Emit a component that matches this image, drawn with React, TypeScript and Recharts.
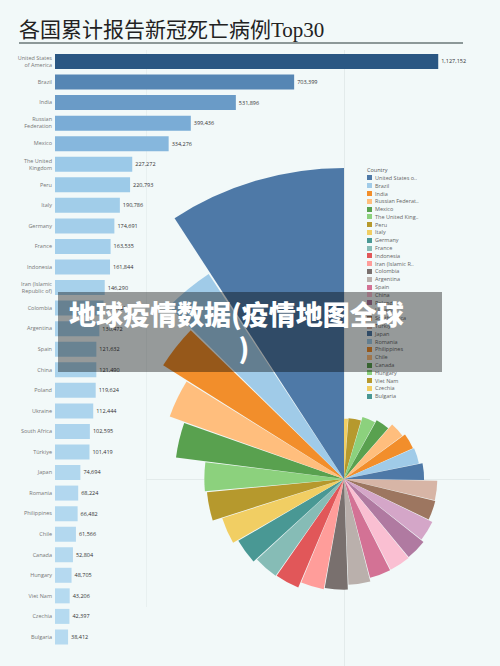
import React from 'react';
import {
  BarChart,
  Bar,
  XAxis,
  YAxis,
  LabelList,
  Cell,
  RadialBarChart,
  RadialBar,
  PolarAngleAxis,
  PolarRadiusAxis,
  Sector,
} from 'recharts';

const countries = [
  'United States of America', 'Brazil', 'India', 'Russian Federation', 'Mexico',
  'The United Kingdom', 'Peru', 'Italy', 'Germany', 'France', 'Indonesia',
  'Iran (Islamic Republic of)', 'Colombia', 'Argentina', 'Spain', 'China', 'Poland',
  'Ukraine', 'South Africa', 'Türkiye', 'Japan', 'Romania', 'Philippines', 'Chile',
  'Canada', 'Hungary', 'Viet Nam', 'Czechia', 'Bulgaria',
];

const deaths = [
  1127152, 703399, 531896, 399436, 334276, 227272, 220793, 190786, 174691, 163535,
  161844, 146290, 142727, 130472, 121632, 121490, 119624, 112444, 102595, 101419,
  74694, 68224, 66482, 61566, 52804, 48705, 43206, 42397, 38412,
];

// axis labels that wrap onto two lines
const tickLines: Record<string, string[]> = {
  'United States of America': ['United States', 'of America'],
  'Russian Federation': ['Russian', 'Federation'],
  'The United Kingdom': ['The United', 'Kingdom'],
  'Iran (Islamic Republic of)': ['Iran (Islamic', 'Republic of)'],
};

const tableau20 = [
  '#4e79a7', '#a0cbe8', '#f28e2b', '#ffbe7d', '#59a14f', '#8cd17d', '#b6992d', '#f1ce63',
  '#499894', '#86bcb6', '#e15759', '#ff9d9a', '#79706e', '#bab0ac', '#d37295', '#fabfd2',
  '#b07aa1', '#d4a6c8', '#9d7660', '#d7b5a6',
];

const maxDeaths = Math.max(...deaths);
const minDeaths = Math.min(...deaths);

// sequential blue ramp for the bars
const blueStops: [number, number[]][] = [
  [0, [0xb6, 0xda, 0xf0]],
  [0.17, [0x9c, 0xca, 0xe8]],
  [0.33, [0x7a, 0xac, 0xd6]],
  [0.61, [0x56, 0x86, 0xb4]],
  [1, [0x2a, 0x57, 0x83]],
];

function barColor(v: number) {
  const t = (v - minDeaths) / (maxDeaths - minDeaths);
  for (let i = 1; i < blueStops.length; i++) {
    const [t1, c1] = blueStops[i];
    const [t0, c0] = blueStops[i - 1];
    if (t <= t1) {
      const f = (t - t0) / (t1 - t0);
      const c = c0.map((x, k) => Math.round(x + (c1[k] - x) * f));
      return `rgb(${c[0]},${c[1]},${c[2]})`;
    }
  }
  return 'rgb(42,87,131)';
}

const barData = countries.map((country, i) => ({ country, deaths: deaths[i] }));
const roseData = countries
  .map((country, i) => ({ country, deaths: deaths[i], color: tableau20[i % 20] }))
  .reverse();

const smallFont = '"Open Sans", "Noto Sans", sans-serif';

function CountryTick(props: any) {
  const { x, y, payload } = props;
  const lines = tickLines[payload.value] || [payload.value];
  const start = -((lines.length - 1) * 7) / 2;
  return (
    <text x={x} y={y} textAnchor="end" fontSize={5.5} fill="#777" fontFamily={smallFont}>
      {lines.map((l, i) => (
        <tspan key={l} x={x} dy={i === 0 ? start + 2 : 7}>
          {l}
        </tspan>
      ))}
    </text>
  );
}

function RoseSlice(props: any) {
  const { cx, cy, innerRadius, outerRadius, startAngle, endAngle } = props;
  const row = props.payload || props;
  let start = startAngle;
  // the largest slice is drawn from the top of the circle
  if (row.deaths === maxDeaths) {
    start = endAngle - ((((endAngle - 90) % 360) + 360) % 360);
  }
  return (
    <Sector
      cx={cx}
      cy={cy}
      innerRadius={innerRadius}
      outerRadius={outerRadius}
      startAngle={start}
      endAngle={endAngle}
      fill={row.color}
      stroke="none"
    />
  );
}

function shortName(name: string) {
  return name.length > 15 ? name.slice(0, 15) + '..' : name;
}

export default function App() {
  return (
    <div
      style={{
        position: 'absolute',
        left: 0,
        top: 0,
        width: 500,
        height: 666,
        background: '#f2f9f9',
        overflow: 'hidden',
      }}
    >
      <div
        style={{
          position: 'absolute',
          left: 19,
          top: 13,
          fontFamily: '"Liberation Serif", "DejaVu Serif", "Noto Sans CJK SC", serif',
          fontSize: 21,
          color: '#222',
          whiteSpace: 'nowrap',
        }}
      >
        各国累计报告新冠死亡病例Top30
      </div>
      <div style={{ position: 'absolute', left: 19, top: 42, width: 444, height: 1.5, background: '#8c9898' }} />

      {/* faint panel guides */}
      <div style={{ position: 'absolute', left: 146, top: 50, width: 1, height: 557, background: '#e8f0f0' }} />
      <div style={{ position: 'absolute', left: 344, top: 50, width: 1, height: 616, background: '#e3ebeb' }} />
      <div style={{ position: 'absolute', left: 146, top: 479, width: 344, height: 1, background: '#e3ebeb' }} />

      <div style={{ position: 'absolute', left: 0, top: 0 }}>
        <BarChart
          width={500}
          height={666}
          layout="vertical"
          data={barData}
          margin={{ top: 51, right: 20, bottom: 19, left: 0 }}
        >
          <XAxis type="number" domain={[0, 1250000]} hide />
          <YAxis
            type="category"
            dataKey="country"
            width={55}
            axisLine={false}
            tickLine={false}
            tickSize={0}
            tickMargin={3}
            interval={0}
            tick={<CountryTick />}
          />
          <Bar dataKey="deaths" barSize={15} isAnimationActive={false}>
            {barData.map((d) => (
              <Cell key={d.country} fill={barColor(d.deaths)} />
            ))}
            <LabelList
              dataKey="deaths"
              position="right"
              offset={3}
              formatter={(v: any) => Number(v).toLocaleString('en-US')}
              style={{ fontSize: 5.5, fill: '#333', fontFamily: smallFont }}
            />
          </Bar>
        </BarChart>
      </div>

      <div style={{ position: 'absolute', left: 0, top: 0 }}>
        <RadialBarChart
          width={500}
          height={666}
          cx={344}
          cy={479}
          innerRadius={0}
          outerRadius={311}
          startAngle={98.6}
          endAngle={-261.4}
          layout="centric"
          data={roseData}
          barCategoryGap={0}
          barGap={0}
          margin={{ top: 0, right: 0, bottom: 0, left: 0 }}
        >
          <PolarAngleAxis type="category" dataKey="country" tick={false} tickLine={false} axisLine={false} />
          <PolarRadiusAxis type="number" scale="sqrt" domain={[0, 'dataMax']} tick={false} axisLine={false} />
          <RadialBar dataKey="deaths" isAnimationActive={false} shape={RoseSlice} />
        </RadialBarChart>
      </div>

      {/* legend */}
      <div style={{ position: 'absolute', left: 367, top: 166, fontFamily: smallFont, fontSize: 5.5, color: '#666' }}>
        <div style={{ height: 8, lineHeight: '8px', color: '#555' }}>Country</div>
        {countries.map((c, i) => (
          <div key={c} style={{ display: 'flex', alignItems: 'center', height: 7.8 }}>
            <span style={{ width: 5, height: 5, background: tableau20[i % 20], marginRight: 3, flex: 'none' }} />
            <span style={{ whiteSpace: 'nowrap' }}>{shortName(c)}</span>
          </div>
        ))}
      </div>

      {/* caption band */}
      <div
        style={{
          position: 'absolute',
          left: 58,
          top: 292,
          width: 384,
          height: 80,
          background: 'rgba(0,0,0,0.38)',
          fontFamily: '"Noto Sans CJK SC", sans-serif',
          fontWeight: 900,
          fontSize: 27,
          lineHeight: '35px',
          color: '#fff',
          whiteSpace: 'nowrap',
        }}
      >
        <div style={{ position: 'absolute', left: 11, top: 4 }}>地球疫情数据(疫情地图全球</div>
        <div style={{ position: 'absolute', left: 0, width: 372, top: 38, textAlign: 'center' }}>)</div>
      </div>
    </div>
  );
}
